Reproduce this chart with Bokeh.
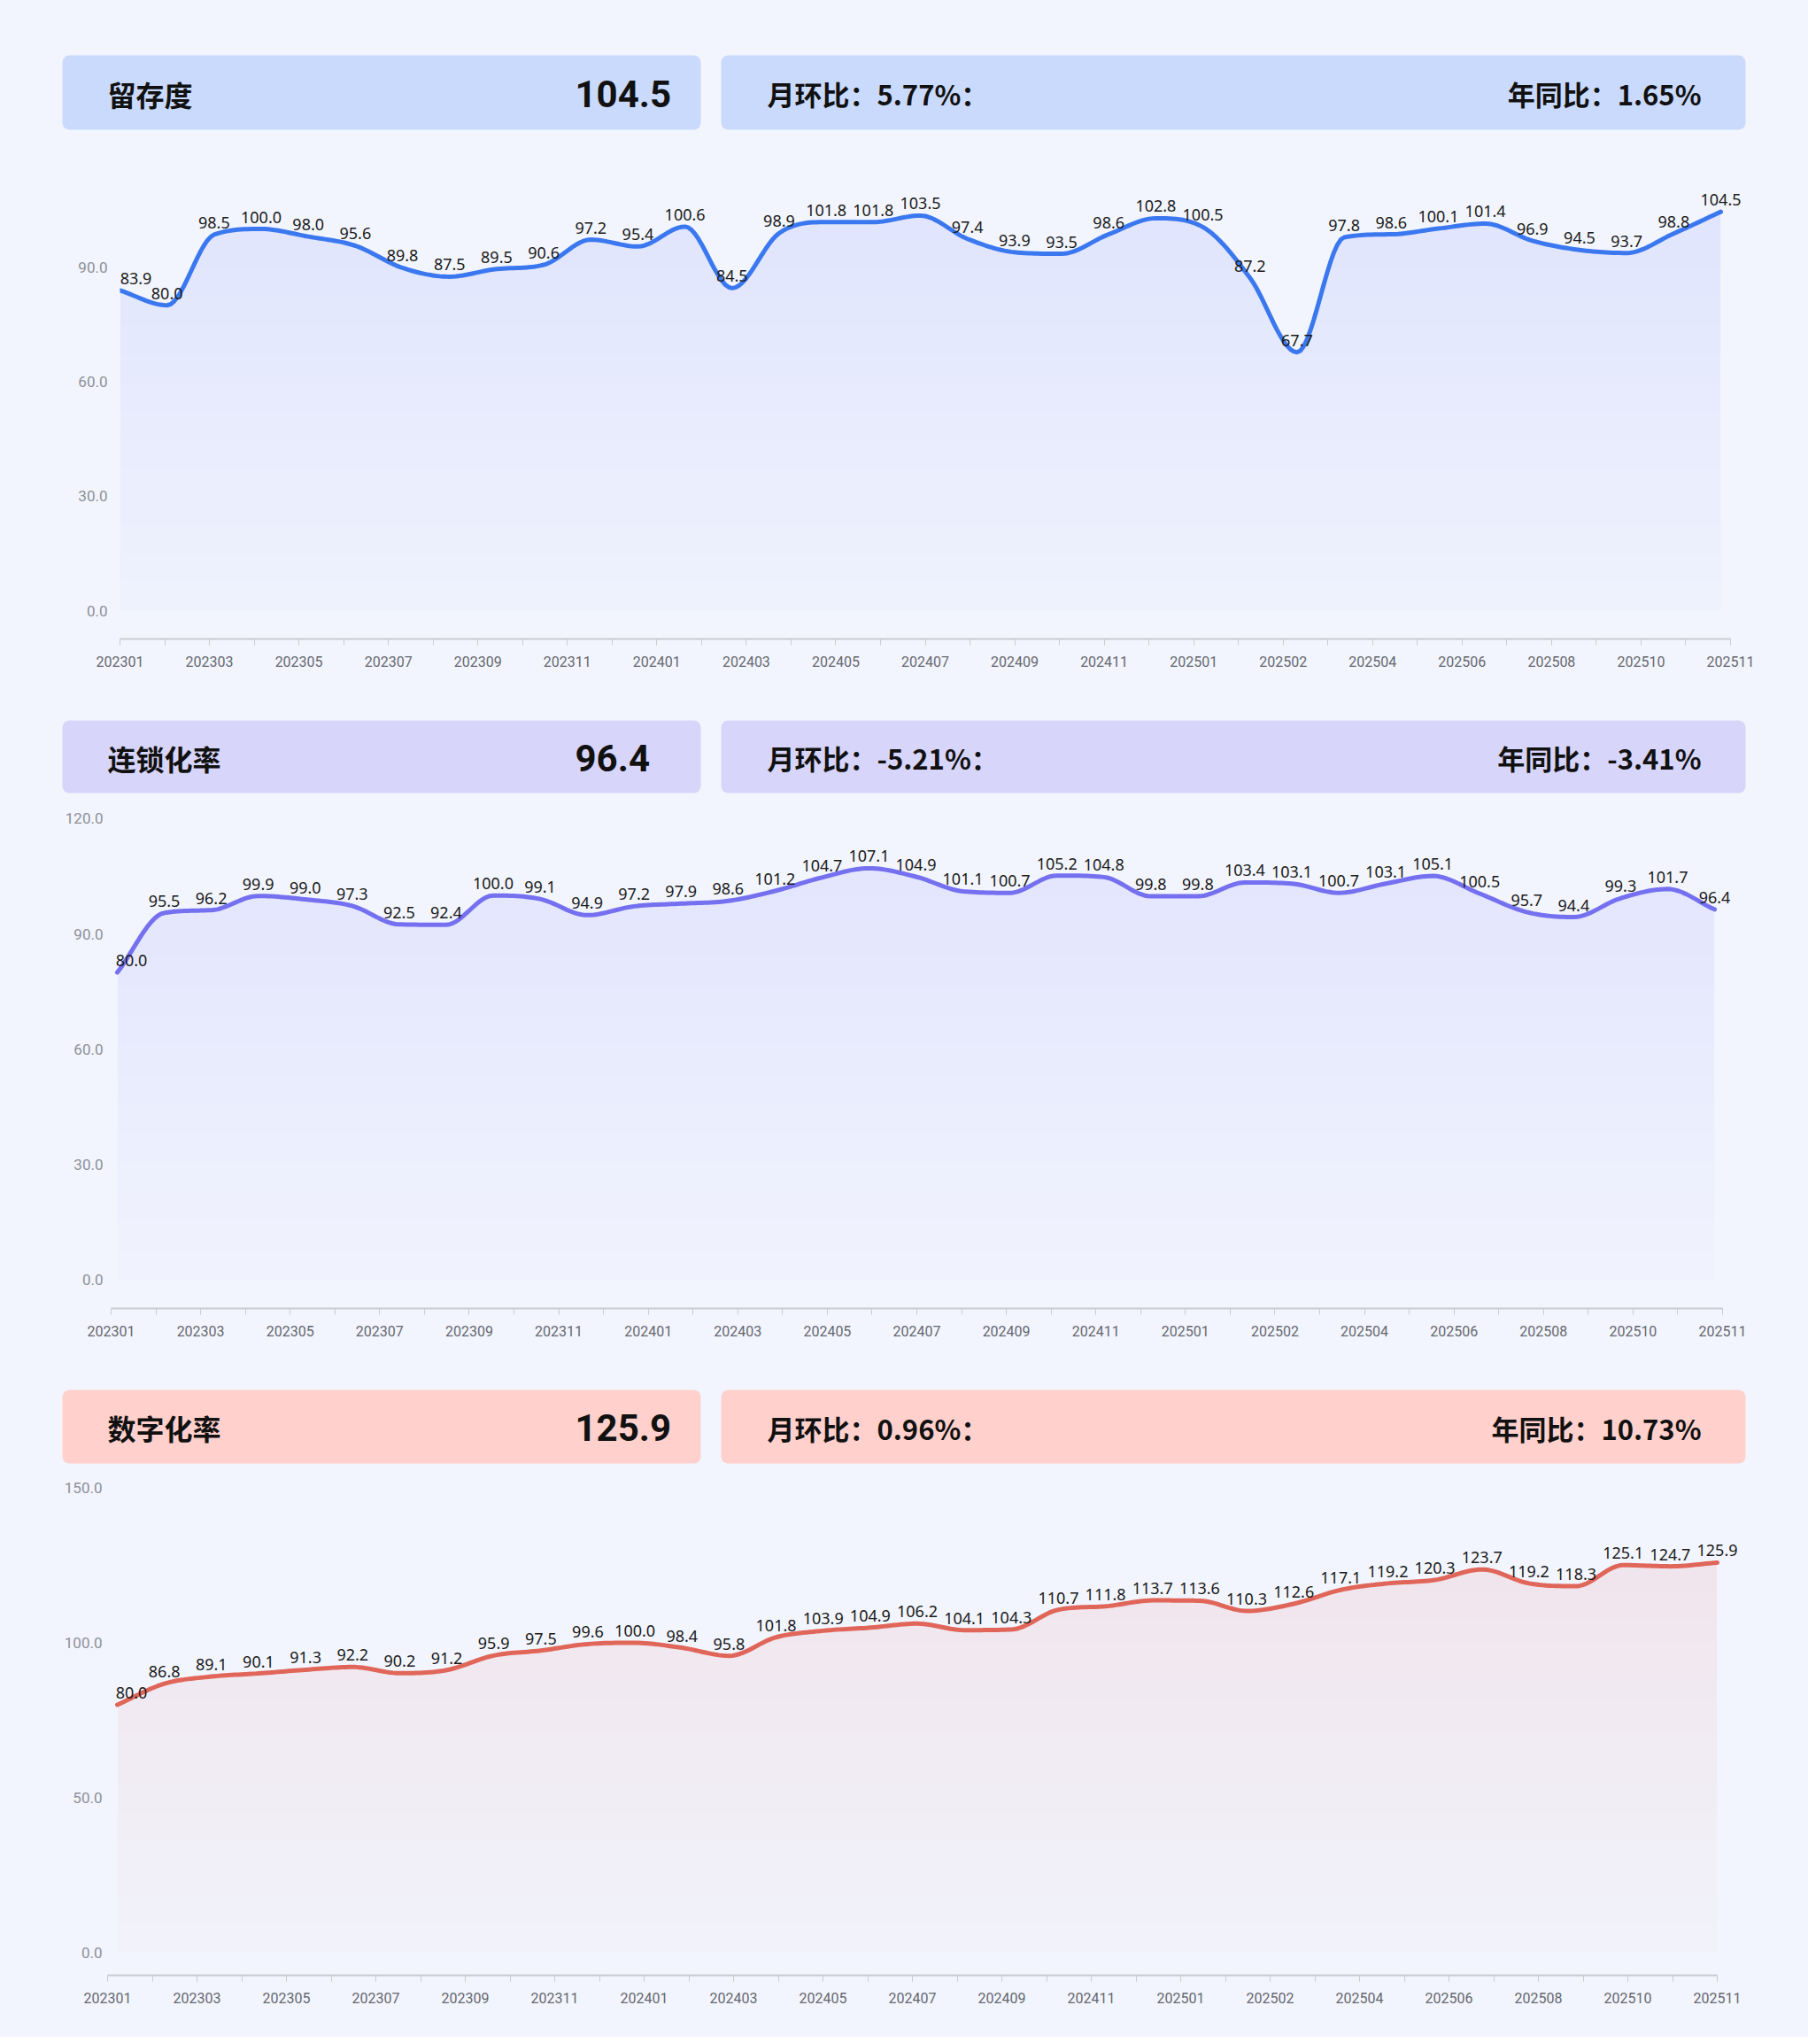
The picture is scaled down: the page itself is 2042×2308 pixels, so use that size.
import numpy as np
from bokeh.plotting import figure
from bokeh.layouts import column
from bokeh.models import Range1d, LinearAxis, FixedTicker, PrintfTickFormatter
from bokeh.core.properties import value
from bokeh.embed import file_html
from bokeh.resources import INLINE

# ---------------------------------------------------------------- data
months = [f"{y}{m:02d}" for y in (2023, 2024, 2025) for m in range(1, 13)][:35]

tick_labels = ["202301", "202303", "202305", "202307", "202309", "202311",
               "202401", "202403", "202405", "202407", "202409", "202411",
               "202501", "202502", "202504", "202506", "202508", "202510",
               "202511"]

titles = ["留存度", "连锁化率", "数字化率"]

retention = [83.9, 80.0, 98.5, 100.0, 98.0, 95.6, 89.8, 87.5, 89.5, 90.6,
             97.2, 95.4, 100.6, 84.5, 98.9, 101.8, 101.8, 103.5, 97.4, 93.9,
             93.5, 98.6, 102.8, 100.5, 87.2, 67.7, 97.8, 98.6, 100.1, 101.4,
             96.9, 94.5, 93.7, 98.8, 104.5]

chain_rate = [80.0, 95.5, 96.2, 99.9, 99.0, 97.3, 92.5, 92.4, 100.0, 99.1,
              94.9, 97.2, 97.9, 98.6, 101.2, 104.7, 107.1, 104.9, 101.1, 100.7,
              105.2, 104.8, 99.8, 99.8, 103.4, 103.1, 100.7, 103.1, 105.1, 100.5,
              95.7, 94.4, 99.3, 101.7, 96.4]

digital_rate = [80.0, 86.8, 89.1, 90.1, 91.3, 92.2, 90.2, 91.2, 95.9, 97.5,
                99.6, 100.0, 98.4, 95.8, 101.8, 103.9, 104.9, 106.2, 104.1, 104.3,
                110.7, 111.8, 113.7, 113.6, 110.3, 112.6, 117.1, 119.2, 120.3, 123.7,
                119.2, 118.3, 125.1, 124.7, 125.9]

series = [retention, chain_rate, digital_rate]
y_ticks = [[0, 30, 60, 90], [0, 30, 60, 90, 120], [0, 50, 100, 150]]

# ---------------------------------------------------------------- style
W = 2042
BG = "#F2F5FD"
BOX_COLORS = ["#C9DAFD", "#D8D5FB", "#FFD0CC"]
LINE_COLORS = ["#3B78F0", "#7570F0", "#E0665A"]
FILL_ALPHA = [(0.075, 0.015), (0.06, 0.012), (0.06, 0.015)]
Y_STANDOFF = [14, 9, 6]
CJK = value("Noto Sans CJK SC")
FRAME_RIGHT = 1995


def monotone_curve(xs, ys, n=14):
    """Fritsch-Carlson monotone cubic through the points, for a smooth line."""
    xs = np.asarray(xs, float)
    ys = np.asarray(ys, float)
    h = np.diff(xs)
    d = np.diff(ys) / h
    m = np.zeros_like(ys)
    m[0], m[-1] = d[0], d[-1]
    for i in range(1, len(ys) - 1):
        if d[i - 1] * d[i] <= 0:
            m[i] = 0.0
        else:
            m[i] = (d[i - 1] + d[i]) / 2.0
    for i in range(len(d)):
        if d[i] == 0:
            m[i] = m[i + 1] = 0.0
            continue
        a, b = m[i] / d[i], m[i + 1] / d[i]
        s = a * a + b * b
        if s > 9:
            t = 3 / np.sqrt(s)
            m[i], m[i + 1] = t * a * d[i], t * b * d[i]
    out_x, out_y = [], []
    for i in range(len(d)):
        t = np.linspace(0, 1, n, endpoint=(i == len(d) - 1))
        h00 = 2 * t**3 - 3 * t**2 + 1
        h10 = t**3 - 2 * t**2 + t
        h01 = -2 * t**3 + 3 * t**2
        h11 = t**3 - t**2
        out_x.extend(xs[i] + t * h[i])
        out_y.extend(h00 * ys[i] + h10 * h[i] * m[i] + h01 * ys[i + 1] + h11 * h[i] * m[i + 1])
    return np.array(out_x), np.array(out_y)


def base_fig(h, **kw):
    p = figure(width=W, height=h, toolbar_location=None, output_backend="svg",
               frame_align=False, **kw)
    p.background_fill_color = BG
    p.border_fill_color = BG
    p.outline_line_color = None
    return p


def header_fig(h, box_top, box_bot, color, title, val, mom_txt, yoy_txt):
    p = base_fig(h, x_range=Range1d(0, W), y_range=Range1d(h, 0),
                 x_axis_location=None, y_axis_location=None, min_border=0)
    p.grid.visible = False
    p.quad(left=[70, 814], right=[791, 1971], top=[box_top] * 2, bottom=[box_bot] * 2,
           fill_color=color, line_color=None, border_radius=8)
    mid = (box_top + box_bot) / 2 + 1
    common = dict(text_baseline="middle", text_font_style="bold", text_color="#111111")
    p.text(x=[121], y=[mid], text=[title], text_font=CJK, text_font_size="32px", **common)
    p.text(x=[649], y=[mid], text=[val], text_font=value("Roboto"),
           text_font_size="42px", **common)
    p.text(x=[866], y=[mid], text=[mom_txt], text_font=CJK, text_font_size="31px", **common)
    p.text(x=[1921], y=[mid], text=[yoy_txt], text_font=CJK, text_font_size="31px",
           text_align="right", **common)
    return p


def chart_fig(vals, k, fig_top, h, frame_top, frame_bot, ax_l, ax_r,
              first_px, last_px, y_min, y_max, first_shift):
    n = len(vals)
    px_per = (last_px - first_px) / (n - 1)
    x0 = (ax_l - first_px) / px_per
    x1 = (n - 1) + (FRAME_RIGHT - last_px) / px_per
    p = base_fig(h, x_range=Range1d(x0, x1), y_range=Range1d(y_min, y_max),
                 x_axis_location=None,
                 min_border_left=ax_l, min_border_right=W - FRAME_RIGHT,
                 min_border_top=frame_top - fig_top,
                 min_border_bottom=fig_top + h - frame_bot)
    p.xgrid.grid_line_color = None
    p.ygrid.grid_line_color = None

    # value axis
    ya = p.yaxis[0]
    ya.ticker = FixedTicker(ticks=y_ticks[k])
    ya.formatter = PrintfTickFormatter(format="%.1f")
    ya.axis_line_color = None
    ya.major_tick_line_color = None
    ya.minor_tick_line_color = None
    ya.major_tick_out = 0
    ya.major_tick_in = 0
    ya.major_label_standoff = Y_STANDOFF[k]
    ya.major_label_text_font = "Roboto"
    ya.major_label_text_font_size = "17px"
    ya.major_label_text_color = "#8E9099"

    # month axis: 37 evenly spaced ticks, every second one labelled
    t_end = 36 * (FRAME_RIGHT - ax_l) / (ax_r - ax_l)
    p.extra_x_ranges = {"ticks": Range1d(0, t_end)}
    xa = LinearAxis(x_range_name="ticks", bounds=(0, 36))
    xa.ticker = FixedTicker(ticks=list(range(0, 37, 2)), minor_ticks=list(range(37)))
    xa.major_label_overrides = {2 * i: lab for i, lab in enumerate(tick_labels)}
    xa.axis_line_color = "#C9CCD3"
    xa.axis_line_width = 2
    xa.major_tick_line_color = "#C9CCD3"
    xa.minor_tick_line_color = "#C9CCD3"
    xa.major_tick_in = 0
    xa.major_tick_out = 7
    xa.minor_tick_in = 0
    xa.minor_tick_out = 7
    xa.major_label_standoff = 12
    xa.major_label_text_font = "Roboto"
    xa.major_label_text_font_size = "16px"
    xa.major_label_text_color = "#666870"
    p.add_layout(xa, "below")

    idx = np.arange(n)
    cx, cy = monotone_curve(idx, vals)
    color = LINE_COLORS[k]

    # layered area fill, denser towards the line
    a_top, a_bot = FILL_ALPHA[k]
    top = cy.max()
    layers = 14
    levels = np.linspace(0, top, layers + 1)[:-1]
    prev = 0.0
    for j, lv in enumerate(levels):
        target = a_bot + (a_top - a_bot) * (j + 1) / layers
        step = 1 - (1 - target) / (1 - prev)
        prev = target
        p.varea(x=cx, y1=np.full_like(cy, lv), y2=np.maximum(cy, lv),
                fill_color=color, fill_alpha=max(step, 0.0))

    p.line(cx, cy, line_color=color, line_width=5, line_cap="round", line_join="round")

    shifts = [first_shift] + [0] * (n - 1)
    p.text(x=idx, y=vals, text=[f"{v:.1f}" for v in vals], x_offset=shifts,
           text_align="center", text_baseline="bottom", y_offset=-7,
           text_font=value("Noto Sans"), text_font_size="18px", text_color="#1A1A1A")
    return p


headers = []
for k, vals in enumerate(series):
    mom = (vals[-1] / vals[-2] - 1) * 100
    yoy = (vals[-1] / vals[-13] - 1) * 100
    headers.append((titles[k], f"{vals[-1]:.1f}", f"月环比：{mom:.2f}%：", f"年同比：{yoy:.2f}%"))

h1 = header_fig(160, 62, 146, BOX_COLORS[0], *headers[0])
c1 = chart_fig(retention, 0, 160, 630, 180, 721, 135, 1954, 135, 1943, -7.4, 118.1, 18)
h2 = header_fig(115, 23, 105, BOX_COLORS[1], *headers[1])
c2 = chart_fig(chain_rate, 1, 905, 640, 910, 1477, 125, 1945, 132, 1936, -7.4, 123.2, 16)
h3 = header_fig(115, 24, 107, BOX_COLORS[2], *headers[2])
c3 = chart_fig(digital_rate, 2, 1660, 640, 1665, 2230, 121, 1939, 132, 1939, -7.4, 154.2, 16)

page = column(h1, c1, h2, c2, h3, c3, spacing=0, styles={"background-color": BG})

open("out.html", "w").write(file_html(page, INLINE))
